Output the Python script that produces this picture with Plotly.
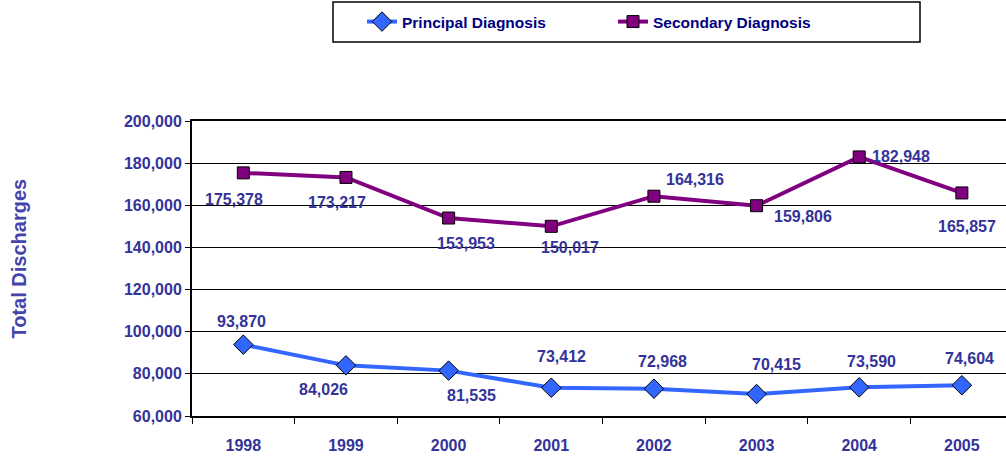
import plotly.graph_objects as go

years = ["1998", "1999", "2000", "2001", "2002", "2003", "2004", "2005"]
principal = [93870, 84026, 81535, 73412, 72968, 70415, 73590, 74604]
secondary = [175378, 173217, 153953, 150017, 164316, 159806, 182948, 165857]
y_ticks = [60000, 80000, 100000, 120000, 140000, 160000, 180000, 200000]

# label offsets in pixels (dx, dy)
principal_off = [(-2, 23), (-22, -24), (23, -25), (10, 31), (9, 27), (20, 30), (12, 26), (8, 27)]
secondary_off = [(-9, -27), (-9, -25), (17, -25), (19, -21), (41, 17), (46, -11), (42, 0), (5, -34)]

FONT = "Liberation Sans, Arial, sans-serif"
LBL = "#333399"
W, H = 1006, 463

fig = go.Figure()
fig.add_trace(go.Scatter(
    x=years, y=principal, name="Principal Diagnosis", mode="lines+markers",
    line=dict(color="#3366FF", width=4),
    marker=dict(symbol="diamond", size=15, color="#3366FF", line=dict(color="black", width=1)),
))
fig.add_trace(go.Scatter(
    x=years, y=secondary, name="Secondary Diagnosis", mode="lines+markers",
    line=dict(color="#800080", width=4),
    marker=dict(symbol="square", size=12, color="#800080", line=dict(color="black", width=1)),
))

# annotations on a category axis use the category index
for vals, offs in [(principal, principal_off), (secondary, secondary_off)]:
    for i, (v, (dx, dy)) in enumerate(zip(vals, offs)):
        fig.add_annotation(x=i, y=v, text=f"{v:,}", showarrow=False,
                           xshift=dx, yshift=dy,
                           font=dict(family=FONT, size=16, color=LBL, weight="bold"))

fig.add_annotation(text="Total Discharges", x=0, xref="paper", y=0.5, yref="paper",
                   xanchor="center", yanchor="middle", xshift=-174, yshift=10,
                   showarrow=False, textangle=-90,
                   font=dict(family=FONT, size=20, color="#4444AA", weight="bold"))

# legend frame
fig.add_shape(type="rect", xref="paper", yref="paper",
              x0=(333 - 192) / (W - 192), x1=(920 - 192) / (W - 192),
              y0=1 + (121 - 42) / (H - 121 - 47), y1=1 + (121 - 2) / (H - 121 - 47),
              line=dict(color="black", width=1.5), fillcolor="rgba(0,0,0,0)")

fig.update_layout(
    width=W, height=H,
    margin=dict(l=192, r=0, t=121, b=47, autoexpand=False),
    plot_bgcolor="white", paper_bgcolor="white",
    showlegend=True,
    legend=dict(orientation="h", x=(362 - 192) / (W - 192), xanchor="left",
                y=1 - 22 / H, yref="container", yanchor="middle",
                borderwidth=0, bgcolor="rgba(0,0,0,0)",
                font=dict(family=FONT, size=15.5, color="#000080", weight="bold"),
                itemwidth=30, entrywidth=206),
)

fig.update_xaxes(
    type="category", range=[-0.5, 7.43],
    showline=True, linecolor="black", linewidth=2, mirror=True,
    ticks="outside", ticklen=6, tickcolor="black", tickwidth=1, tickson="boundaries",
    showgrid=False, ticklabelstandoff=14,
    tickfont=dict(family=FONT, size=16, color=LBL, weight="bold"),
)
fig.update_yaxes(
    range=[60000, 200000], tickvals=y_ticks, tickformat=",",
    showline=True, linecolor="black", linewidth=2,
    ticks="outside", ticklen=5, tickcolor="black",
    showgrid=True, gridcolor="black", gridwidth=1,
    tickfont=dict(family=FONT, size=16, color=LBL, weight="bold"),
    zeroline=False,
)

fig.write_html("out.html", config={"displayModeBar": False},
               post_script="document.body.style.margin='0';document.body.style.overflow='hidden';")
